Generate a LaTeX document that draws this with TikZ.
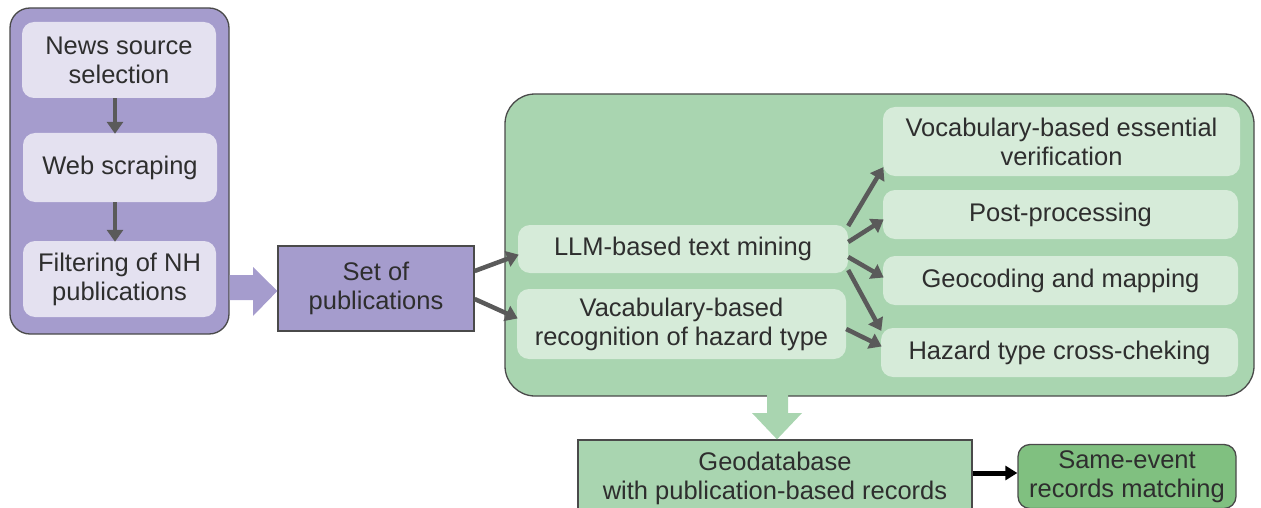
\documentclass[tikz,border=0pt]{standalone}
\usepackage{fontspec}
\setmainfont{Liberation Sans}
\usetikzlibrary{arrows.meta}
\definecolor{purp}{HTML}{A59CCD}
\definecolor{purpl}{HTML}{E4E1F0}
\definecolor{grn}{HTML}{A9D5B0}
\definecolor{grnl}{HTML}{D6EBD9}
\definecolor{grnd}{HTML}{80C080}
\definecolor{edge}{HTML}{4A4A4A}
\definecolor{arr}{HTML}{5A5A5A}
\definecolor{txt}{HTML}{2E2E2E}
\tikzset{
  panel/.style={draw=edge, line width=1.3pt, rounded corners=#1},
  innerbox/.style={rounded corners=12pt, align=center, text=txt, inner sep=0pt,
    font=\fontsize{25.5}{29}\selectfont},
  flatbox/.style={draw=edge, line width=1.3pt, align=center, text=txt, inner sep=0pt,
    font=\fontsize{25.5}{29}\selectfont},
  garrow/.style={draw=arr, line width=4.5pt, -{Triangle[length=12pt,width=16pt]}, shorten >=-1pt},
}
\begin{document}
\begin{tikzpicture}[x=1pt,y=-1pt]
\useasboundingbox (0,0) rectangle (1261,508);
% left panel
\node[panel=20pt, fill=purp, minimum width=219pt, minimum height=326pt, inner sep=0pt] (lp) at (119.5,171) {};
\node[innerbox, fill=purpl, minimum width=194pt, minimum height=76pt] (news) at (119,60) {News source\\selection};
\node[innerbox, fill=purpl, minimum width=194pt, minimum height=69pt] (web) at (120,167.5) {Web scraping};
\node[innerbox, fill=purpl, minimum width=193pt, minimum height=76pt] (filt) at (119.5,279) {Filtering of NH\\publications};
\draw[garrow] (news.south -| 115,0) -- (web.north -| 115,0);
\draw[garrow] (web.south -| 115,0) -- (filt.north -| 115,0);
% set of publications
\node[flatbox, fill=purp, minimum width=196pt, minimum height=85pt] (set) at (376,288.5) {Set of\\publications};
% big purple arrow
\fill[purp] (lp.east |- 0,275) -- (253,275) -- (253,267) -- (set.west |- 0,291) -- (253,316) -- (253,300) -- (lp.east |- 0,300) -- cycle;
% green panel
\node[panel=30pt, fill=grn, minimum width=749pt, minimum height=302pt, inner sep=0pt] (gp) at (879.5,245) {};
\node[innerbox, fill=grnl, minimum width=330pt, minimum height=48pt] (llm) at (683,249) {LLM-based text mining};
\node[innerbox, fill=grnl, minimum width=329pt, minimum height=70pt] (vac) at (681.5,324) {Vacabulary-based\\recognition of hazard type};
\node[innerbox, fill=grnl, minimum width=357pt, minimum height=69pt] (ve) at (1061.5,141.5) {Vocabulary-based essential\\verification};
\node[innerbox, fill=grnl, minimum width=355pt, minimum height=49pt] (pp) at (1060.5,214.5) {Post-processing};
\node[innerbox, fill=grnl, minimum width=355pt, minimum height=49pt] (geo) at (1060.5,280.5) {Geocoding and mapping};
\node[innerbox, fill=grnl, minimum width=357pt, minimum height=49pt] (haz) at (1059.5,352.5) {Hazard type cross-cheking};
% arrows from set
\draw[garrow] (set.east |- 0,271) -- (llm.west |- 0,255);
\draw[garrow] (set.east |- 0,299) -- (vac.west |- 0,318);
% arrows from llm
\draw[garrow] (llm.east |- 0,226) -- (ve.west |- 0,168);
\draw[garrow] (llm.east |- 0,242) -- (pp.west |- 0,220);
\draw[garrow] (llm.east |- 0,257) -- (geo.west |- 0,277);
\draw[garrow] (llm.east |- 0,270) -- (haz.west |- 0,330);
\draw[garrow] (vac.east |- 0,329) -- (haz.west |- 0,346);
% bottom
\node[flatbox, fill=grn, minimum width=394pt, minimum height=76pt] (gdb) at (775,478) {Geodatabase\\with publication-based records};
\node[panel=12pt, fill=grnd, minimum width=218pt, minimum height=64pt, align=center, text=txt, inner sep=0pt, font=\fontsize{25.5}{29}\selectfont] (se) at (1127,476.5) {Same-event\\records matching};
% green down arrow
\coordinate (gtip) at (gdb.north -| 777,0);
\fill[grn] (767,395) -- (788,395) -- (788,413) -- (802,413) -- (gtip) -- (752,413) -- (767,413) -- cycle;
\draw[black, line width=5pt, -{Triangle[length=12pt,width=14pt]}] (gdb.east |- 0,473) -- (se.west |- 0,473);
\end{tikzpicture}
\end{document}
